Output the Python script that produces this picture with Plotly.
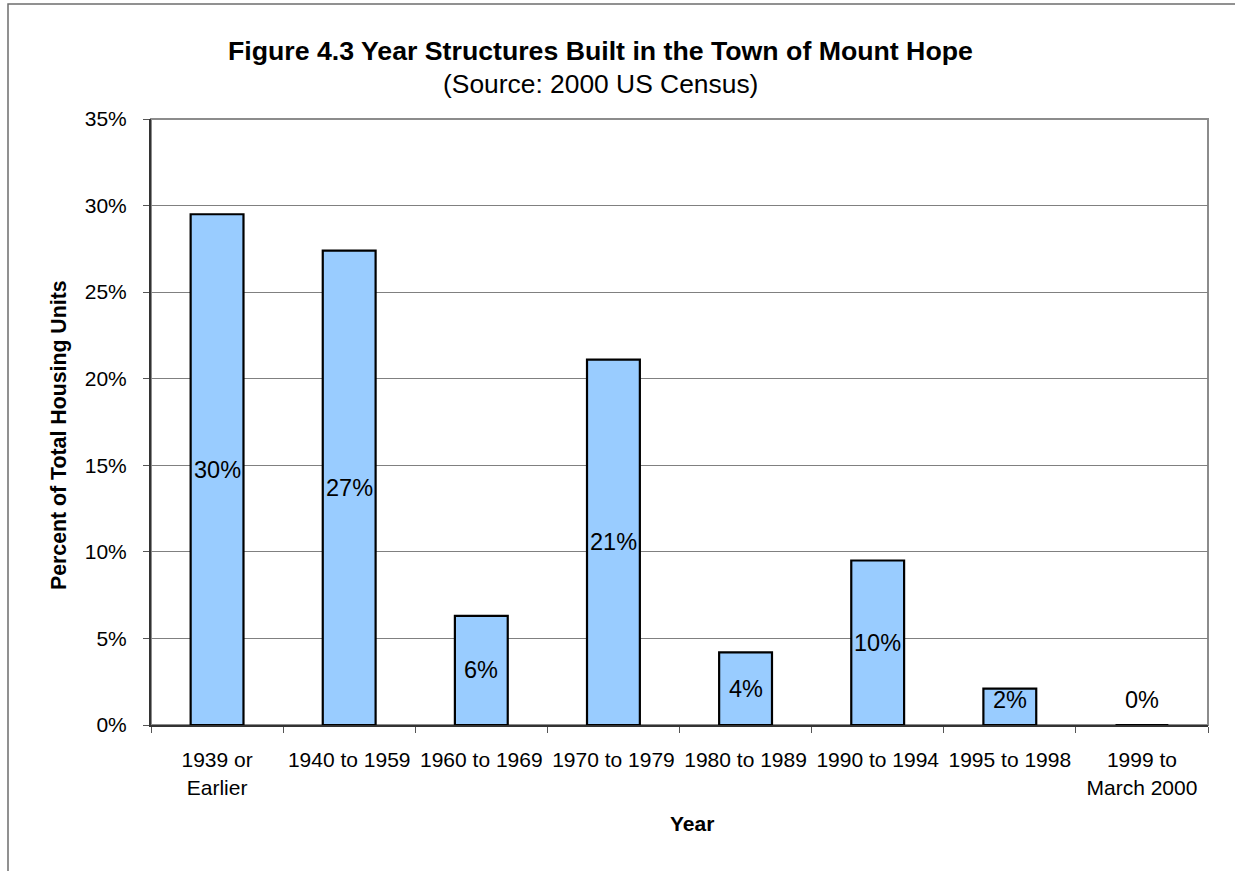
import plotly.graph_objects as go

categories = ["1939 or<br>Earlier", "1940 to 1959", "1960 to 1969", "1970 to 1979",
              "1980 to 1989", "1990 to 1994", "1995 to 1998", "1999 to<br>March 2000"]
values = [29.5, 27.4, 6.3, 21.1, 4.2, 9.5, 2.1, 0.0]
value_labels = ["30%", "27%", "6%", "21%", "4%", "10%", "2%", "0%"]
y_ticks = [0, 5, 10, 15, 20, 25, 30, 35]
y_tick_labels = ["0%", "5%", "10%", "15%", "20%", "25%", "30%", "35%"]

FONT = "Liberation Sans, Arial, sans-serif"

fig = go.Figure()
fig.add_trace(go.Bar(
    x=categories, y=values, width=0.4,
    marker=dict(color="#99CCFF", line=dict(color="#000000", width=2.2)),
    hoverinfo="skip", showlegend=False,
))

# data labels centred in bars (minimum height for tiny bars)
for c, v, t in zip(categories, values, value_labels):
    fig.add_annotation(x=c, y=max(v / 2, 1.45), xref="x", yref="y", text=t,
                       showarrow=False, font=dict(family=FONT, size=23.5, color="#000"))

W, H = 1235, 871
L, R, T, B = 151, 27, 119, 146
pw, ph = W - L - R, H - T - B

def px(xp):
    return (xp - L) / pw

def py(yp):
    return (H - B - yp) / ph

# outer chart frame
fig.add_shape(type="rect", xref="paper", yref="paper",
              x0=px(8), x1=px(1245), y0=py(885), y1=py(4),
              line=dict(color="#6e6e6e", width=1.5), fillcolor="rgba(0,0,0,0)", layer="below")
# plot area border
fig.add_shape(type="rect", xref="paper", yref="paper", x0=0, x1=1, y0=0, y1=1,
              line=dict(color="#8c8c8c", width=2), fillcolor="rgba(0,0,0,0)", layer="below")

fig.add_annotation(xref="paper", yref="paper", x=px(600), y=py(51),
                   text="<b>Figure 4.3 Year Structures Built in the Town of Mount Hope</b>",
                   showarrow=False, xanchor="center", yanchor="middle",
                   font=dict(family=FONT, size=26.7, color="#000"))
fig.add_annotation(xref="paper", yref="paper", x=px(600), y=py(84),
                   text="(Source: 2000 US Census)",
                   showarrow=False, xanchor="center", yanchor="middle",
                   font=dict(family=FONT, size=26.4, color="#000"))
fig.add_annotation(xref="paper", yref="paper", x=px(59), y=py(435),
                   text="<b>Percent of Total Housing Units</b>", textangle=-90,
                   showarrow=False, xanchor="center", yanchor="middle",
                   font=dict(family=FONT, size=21.3, color="#000"))
fig.add_annotation(xref="paper", yref="paper", x=px(692), y=py(823),
                   text="<b>Year</b>",
                   showarrow=False, xanchor="center", yanchor="middle",
                   font=dict(family=FONT, size=21, color="#000"))

fig.update_layout(
    width=W, height=H,
    margin=dict(l=L, r=R, t=T, b=B, pad=0),
    paper_bgcolor="white", plot_bgcolor="white",
    font=dict(family=FONT, color="#000"),
    bargap=0.6,
    xaxis=dict(
        type="category", tickson="boundaries", ticks="outside", ticklen=6,
        tickcolor="#555", tickwidth=1,
        showline=True, linecolor="#333", linewidth=2,
        tickfont=dict(family=FONT, size=21, color="#000"),
        ticklabelstandoff=15, showgrid=False, range=[-0.5, 7.5],
    ),
    yaxis=dict(
        range=[0, 35], tickvals=y_ticks, ticktext=y_tick_labels,
        ticks="outside", ticklen=6, tickcolor="#555", tickwidth=1,
        showline=True, linecolor="#333", linewidth=2,
        showgrid=True, gridcolor="#808080", gridwidth=1,
        tickfont=dict(family=FONT, size=21, color="#000"),
        ticklabelstandoff=12, zeroline=False,
    ),
)

fig.write_html("out.html", config={"displayModeBar": False},
               post_script="document.body.style.margin='0';document.body.style.overflow='hidden';")
